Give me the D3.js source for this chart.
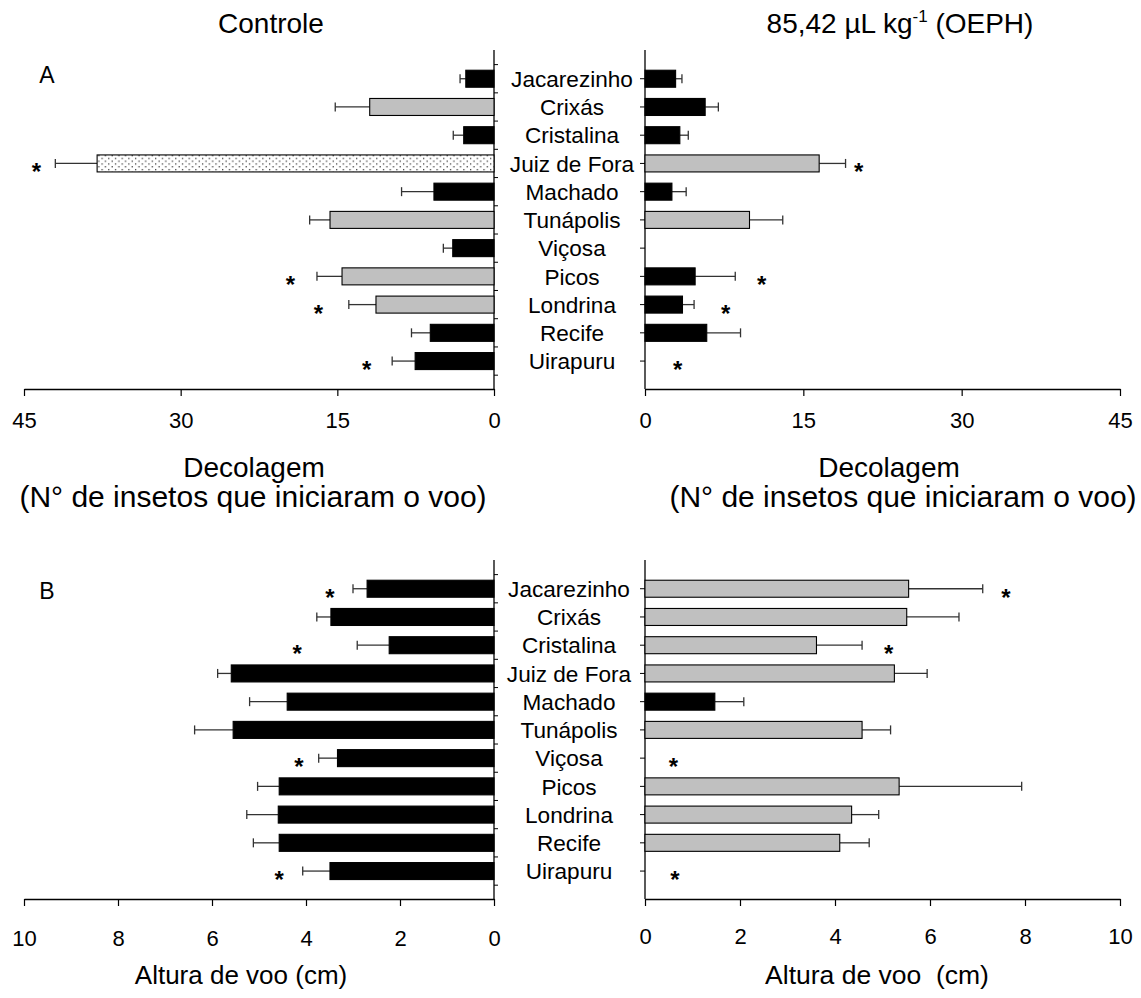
<!DOCTYPE html>
<html><head><meta charset="utf-8">
<script src="https://cdn.jsdelivr.net/npm/d3@7"></script>
<style>body{margin:0;background:#fff;} text{font-family:Arial,"Liberation Sans",sans-serif;fill:#000;}</style>
</head><body><svg id="c" width="1141" height="998"></svg>
<script>
const categories = ["Jacarezinho","Crixás","Cristalina","Juiz de Fora","Machado","Tunápolis","Viçosa","Picos","Londrina","Recife","Uirapuru"];

const takeoffControl     = [2.7, 11.9, 2.9, 38.0, 5.75, 15.7, 3.95, 14.55, 11.3, 6.1, 7.55];
const takeoffControlErr  = [0.55, 3.3, 1.0, 4.0, 3.1, 1.95, 0.9, 2.4, 2.6, 1.8, 2.2];
const takeoffControlFill = ["k","g","k","d","k","g","k","g","g","k","k"];
const takeoffControlStar = [null,null,null,43.8,null,null,null,19.5,16.8,null,12.2];

const takeoffOEPH     = [2.9, 5.7, 3.3, 16.5, 2.55, 9.9, 0, 4.75, 3.55, 5.85, 0];
const takeoffOEPHErr  = [0.6, 1.25, 0.8, 2.5, 1.35, 3.15, 0, 3.8, 1.1, 3.2, 0];
const takeoffOEPHFill = ["k","k","k","g","k","g","k","k","k","k","k"];
const takeoffOEPHStar = [null,null,null,20.25,null,null,null,11.05,7.65,null,3.1];

const heightControl     = [2.7, 3.47, 2.23, 5.59, 4.4, 5.55, 3.33, 4.57, 4.59, 4.57, 3.49];
const heightControlErr  = [0.3, 0.3, 0.68, 0.29, 0.8, 0.82, 0.4, 0.46, 0.67, 0.55, 0.58];
const heightControlFill = ["k","k","k","k","k","k","k","k","k","k","k"];
const heightControlStar = [3.49,null,4.19,null,null,null,4.15,null,null,null,4.57];

const heightOEPH     = [5.55, 5.51, 3.61, 5.25, 1.47, 4.57, 0, 5.35, 4.35, 4.1, 0];
const heightOEPHErr  = [1.56, 1.1, 0.96, 0.69, 0.61, 0.6, 0, 2.58, 0.57, 0.62, 0];
const heightOEPHFill = ["g","g","g","g","k","g","g","g","g","g","g"];
const heightOEPHStar = [7.6,null,5.13,null,null,null,0.6,null,null,null,0.63];

const takeoffTicks = [0, 15, 30, 45];
const heightTicks  = [0, 2, 4, 6, 8, 10];

const svg = d3.select("#c");
svg.append("rect").attr("width",1141).attr("height",998).attr("fill","#fff");

const defs = svg.append("defs");
const pat = defs.append("pattern").attr("id","dots").attr("patternUnits","userSpaceOnUse")
  .attr("width",6.7).attr("height",5.6);
pat.append("rect").attr("width",6.7).attr("height",5.6).attr("fill","#fff");
pat.append("rect").attr("x",1).attr("y",1).attr("width",1.2).attr("height",1.2).attr("fill","#222");
pat.append("rect").attr("x",4.4).attr("y",3.8).attr("width",1.2).attr("height",1.2).attr("fill","#222");

const fillOf = {k:"#000", g:"#c0c0c0", d:"url(#dots)"};

function panel(o){
  const {x, y, vals, errs, fills, stars, side, ticks, top, bottom, labelY} = o;
  const g = svg.append("g");
  const x0 = x(0);
  const bh = 17;
  g.append("line").attr("x1",x0).attr("x2",x0).attr("y1",top).attr("y2",bottom)
    .attr("stroke","#000").attr("stroke-width",1.3);
  const ax = d3.axisBottom(x).tickValues(ticks).tickSize(7).tickSizeOuter(0).tickFormat(d3.format("d"));
  const ag = g.append("g").attr("transform",`translate(0,${bottom})`).call(ax);
  ag.select(".domain").attr("stroke","#000").attr("stroke-width",1.3);
  ag.selectAll(".tick line").attr("stroke","#000").attr("stroke-width",1.2);
  ag.selectAll(".tick text").attr("y",labelY).attr("dy",0)
    .style("font-size","22px").style("font-family","Arial, 'Liberation Sans', sans-serif").attr("fill","#000");
  const step = y.step();
  if(side==="left"){
    for(let i=0;i<=categories.length;i++){
      const yy = y(categories[0]) - step/2 + i*step;
      g.append("line").attr("x1",x0).attr("x2",x0+4).attr("y1",yy).attr("y2",yy).attr("stroke","#000");
    }
  } else {
    categories.forEach(c=>{
      g.append("line").attr("x1",x0-5).attr("x2",x0).attr("y1",y(c)).attr("y2",y(c)).attr("stroke","#000");
    });
  }
  categories.forEach((c,i)=>{
    const v = vals[i], e = errs[i], cy = y(c);
    if(v>0){
      const xv = x(v);
      const xe = x(v+e);
      g.append("line").attr("x1",xv).attr("x2",xe).attr("y1",cy).attr("y2",cy)
        .attr("stroke","#333").attr("stroke-width",1.3);
      g.append("line").attr("x1",xe).attr("x2",xe).attr("y1",cy-4.5).attr("y2",cy+4.5)
        .attr("stroke","#333").attr("stroke-width",1.3);
      g.append("rect")
        .attr("x", Math.min(x0,xv)).attr("width", Math.abs(xv-x0))
        .attr("y", cy-bh/2).attr("height", bh)
        .attr("fill", fillOf[fills[i]]).attr("stroke","#000").attr("stroke-width",1.1);
    }
    if(stars[i]!==null){
      g.append("text").attr("x",x(stars[i])).attr("y",cy+17).attr("text-anchor","middle")
        .style("font-size","24px").style("font-weight","bold").text("*");
    }
  });
}

// Panel A
const yA = d3.scalePoint().domain(categories).range([50.5,389.3]).padding(1);
const xAL = d3.scaleLinear().domain([0,45]).range([494,24]);
const xAR = d3.scaleLinear().domain([0,45]).range([645,1120]);
panel({x:xAL,y:yA,vals:takeoffControl,errs:takeoffControlErr,fills:takeoffControlFill,stars:takeoffControlStar,side:"left",ticks:takeoffTicks,top:50,bottom:389,labelY:39});
panel({x:xAR,y:yA,vals:takeoffOEPH,errs:takeoffOEPHErr,fills:takeoffOEPHFill,stars:takeoffOEPHStar,side:"right",ticks:takeoffTicks,top:50,bottom:389,labelY:39});

// Panel B
const yB = d3.scalePoint().domain(categories).range([560.5,899.3]).padding(1);
const xBL = d3.scaleLinear().domain([0,10]).range([494,24]);
const xBR = d3.scaleLinear().domain([0,10]).range([645,1120]);
panel({x:xBL,y:yB,vals:heightControl,errs:heightControlErr,fills:heightControlFill,stars:heightControlStar,side:"left",ticks:heightTicks,top:560,bottom:899,labelY:47});
panel({x:xBR,y:yB,vals:heightOEPH,errs:heightOEPHErr,fills:heightOEPHFill,stars:heightOEPHStar,side:"right",ticks:heightTicks,top:560,bottom:899,labelY:45});

categories.forEach(c=>{
  svg.append("text").attr("x",572).attr("y",yA(c)).attr("dy","0.36em").attr("text-anchor","middle")
    .style("font-size","22.6px").text(c);
  svg.append("text").attr("x",569).attr("y",yB(c)).attr("dy","0.36em").attr("text-anchor","middle")
    .style("font-size","22.6px").text(c);
});

svg.append("text").attr("x",271).attr("y",33).attr("text-anchor","middle").style("font-size","28px").text("Controle");
const t2 = svg.append("text").attr("x",900).attr("y",33).attr("text-anchor","middle").style("font-size","28px");
t2.append("tspan").text("85,42 µL kg");
t2.append("tspan").attr("dy",-11).style("font-size","17px").text("-1");
t2.append("tspan").attr("dy",11).text(" (OEPH)");

svg.append("text").attr("x",47).attr("y",83).attr("text-anchor","middle").style("font-size","23px").text("A");
svg.append("text").attr("x",47).attr("y",599).attr("text-anchor","middle").style("font-size","23px").text("B");

svg.append("text").attr("x",254).attr("y",477).attr("text-anchor","middle").style("font-size","28px").text("Decolagem");
svg.append("text").attr("x",253).attr("y",507).attr("text-anchor","middle").style("font-size","30px").text("(N° de insetos que iniciaram o voo)");
svg.append("text").attr("x",889).attr("y",477).attr("text-anchor","middle").style("font-size","28px").text("Decolagem");
svg.append("text").attr("x",903).attr("y",507).attr("text-anchor","middle").style("font-size","30px").text("(N° de insetos que iniciaram o voo)");
svg.append("text").attr("x",241).attr("y",984).attr("text-anchor","middle").style("font-size","26px").text("Altura de voo (cm)");
svg.append("text").attr("x",877).attr("y",984).attr("text-anchor","middle").style("font-size","26.5px").style("white-space","pre").text("Altura de voo  (cm)");
</script></body></html>
